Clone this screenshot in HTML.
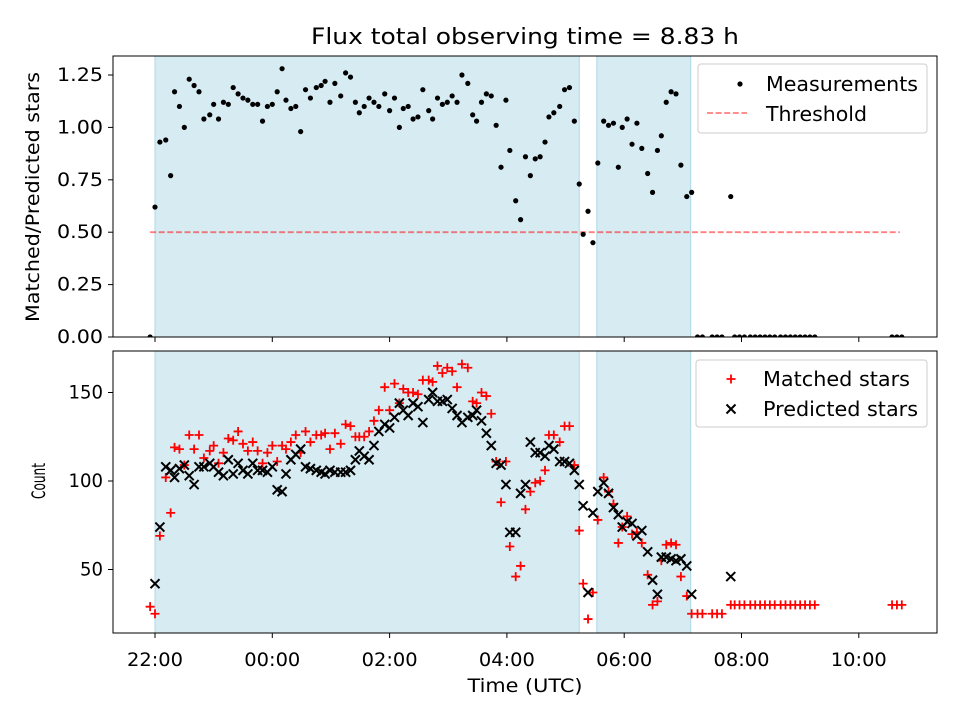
<!DOCTYPE html>
<html><head><meta charset="utf-8"><style>
body{margin:0;background:#fff}
svg{display:block;font-family:"DejaVu Sans","Liberation Sans",sans-serif}
</style></head><body>
<svg id="fig" width="960" height="720" viewBox="0 0 960 720">
<defs>
<clipPath id="clipTop"><rect x="113" y="56" width="824" height="281"/></clipPath>
<clipPath id="clipBot"><rect x="113" y="351" width="824" height="282"/></clipPath>
</defs>
<text x="525" y="44" text-anchor="middle" font-size="22" textLength="428" lengthAdjust="spacingAndGlyphs">Flux total observing time = 8.83 h</text>
<g id="topPanel"></g>
<g id="botPanel"></g>
</svg>
<script>
// minutes since 22:00 UTC
const times=[-5,0,5,11,16,20,25,30,35,40,45,50,56,60,65,70,75,80,85,90,95,100,105,110,115,120,125,130,134,139,144,149,154,159,165,170,174,179,184,190,195,200,205,209,214,219,224,229,
235,240,245,250,254,259,264,269,274,280,284,289,294,299,304,309,314,320,325,329,334,339,344,349,354,359,363,369,374,379,384,389,394,399,403,408,414,419,424,429,434,438,443,448,453,459,464,469,474,478,483,488,493,498,504,509,514,518,523,528,533,538,544,549,
555,560,570,575,580,589,593,598,603,609,614,619,624,629,634,640,645,650,655,660,665,670,675,754,759,764];
const ratios=[0,.62,.93,.94,.77,1.17,1.10,1.00,1.23,1.20,1.17,1.04,1.06,1.11,1.04,1.12,1.11,1.19,1.16,1.14,1.13,1.11,1.11,1.03,1.10,1.11,1.17,1.28,1.13,1.09,1.10,.98,1.18,1.14,1.19,1.20,1.22,1.12,1.21,1.15,1.26,1.24,1.12,1.07,1.10,1.14,1.12,1.10,
1.16,1.08,1.14,1.00,1.09,1.10,1.04,1.05,1.18,1.08,1.04,1.14,1.11,1.12,1.15,1.12,1.25,1.21,1.06,1.03,1.12,1.16,1.15,1.01,.81,1.13,.89,.65,.56,.86,.77,.85,.86,.93,1.05,1.07,1.10,1.18,1.19,1.03,.73,.49,.60,.45,.83,1.03,1.01,1.02,.81,1.00,1.04,.92,1.02,.90,.78,.69,.89,.96,1.12,1.17,1.16,.82,.67,.69,
0,0,0,0,0,.67,0,0,0,0,0,0,0,0,0,0,0,0,0,0,0,0,0,0,0,0];
const matched=[29,25,69,102,82,119,118,109,126,118,126,113,117,120,110,116,124,123,128,121,117,122,117,110,116,120,111,120,118,122,126,116,128,122,126,126,127,118,127,121,132,131,125,125,125,128,134,140,
153,140,155,144,152,150,150,149,157,157,156,165,161,164,162,153,166,164,145,144,150,148,138,111,88,111,63,46,52,84,94,99,100,106,126,126,122,131,131,109,72,42,22,37,78,102,94,87,65,74,80,70,71,65,47,30,32,55,64,65,64,46,35,25,
25,25,25,25,25,30,30,30,30,30,30,30,30,30,30,30,30,30,30,30,30,30,30,30,30,30];
const predicted=[0,42,74,108,106,102,107,109,103,98,108,108,110,108,105,103,112,104,110,106,104,110,106,106,105,108,95,94,104,112,115,118,108,107,106,105,104,106,105,105,105,106,112,117,114,112,120,128,
132,130,136,144,140,137,144,142,133,146,150,145,145,146,141,137,133,136,137,140,134,127,120,110,109,98,71,71,93,98,122,116,116,114,120,118,111,111,110,106,98,86,37,82,94,99,93,85,81,74,77,76,69,72,60,44,36,57,57,56,55,56,52,36,
0,0,0,0,0,46,0,0,0,0,0,0,0,0,0,0,0,0,0,0,0,0,0,0,0,0];
const spanStarts=[0,452];
const spanEnds=[434,548];
const threshold=0.5;
const thrRange=[-5,762];
const xTicks=[0,120,240,360,480,600,720];
const xTickLabels=["22:00","00:00","02:00","04:00","06:00","08:00","10:00"];
const topTicks=[0,0.25,0.5,0.75,1.0,1.25];
const topTickLabels=["0.00","0.25","0.50","0.75","1.00","1.25"];
const botTicks=[50,100,150];
const botTickLabels=["50","100","150"];

const NS="http://www.w3.org/2000/svg";
const X=m=>155+m*0.9775;
const YT=v=>337-v*209.6;
const YB=v=>481-(v-100)*1.77;
function mk(tag,attrs,parent){const e=document.createElementNS(NS,tag);for(const k in attrs)e.setAttribute(k,attrs[k]);parent.appendChild(e);return e;}
function txt(parent,s,x,y,size,len,anchor){const t=mk('text',{x:x,y:y,'font-size':size,'text-anchor':anchor||'start',textLength:len,lengthAdjust:'spacingAndGlyphs'},parent);t.textContent=s;return t;}

function panel(g,y0,y1,clip,yfn,ticks,labels){
  const marks=mk('g',{'clip-path':'url(#'+clip+')'},g);
  for(let i=0;i<spanStarts.length;i++){
    const r=mk('rect',{x:X(spanStarts[i]),y:y0,width:X(spanEnds[i])-X(spanStarts[i]),height:y1-y0,fill:'#add8e6','fill-opacity':0.5,stroke:'#add8e6','stroke-width':1},marks);
    
    
  }
  for(let i=0;i<xTicks.length;i++){
    const t=mk('line',{x1:X(xTicks[i]),x2:X(xTicks[i]),y1:y1,y2:y1+5,stroke:'#000','stroke-width':1},g);
    
    
  }
  for(let i=0;i<ticks.length;i++){
    const y=yfn(ticks[i]);
    const t=mk('line',{x1:108,x2:113,y1:y,y2:y,stroke:'#000','stroke-width':1},g);
    
    
    const l=txt(g,labels[i],103,y+6,19,labels[i].length*11.5,'end');
    
    
  }
  return marks;
}

// TOP
const topG=document.getElementById('topPanel');
const tm=panel(topG,56,337,'clipTop',YT,topTicks,topTickLabels);
const th=mk('line',{x1:X(thrRange[0]),x2:X(thrRange[1]),y1:YT(threshold),y2:YT(threshold),stroke:'#ff0000','stroke-opacity':0.5,'stroke-width':1.8,'stroke-dasharray':'6,2.6'},tm);


for(let i=0;i<times.length;i++){
  const c=mk('circle',{cx:X(times[i]),cy:YT(ratios[i]),r:2.6,fill:'#000'},tm);
  
  
}
mk('rect',{x:113,y:56,width:824,height:281,fill:'none',stroke:'#000','stroke-width':1},topG);
const yl1=mk('text',{x:0,y:0,transform:'translate(39,197) rotate(-90)','text-anchor':'middle','font-size':19,textLength:250,lengthAdjust:'spacingAndGlyphs'},topG);
yl1.textContent='Matched/Predicted stars';



// BOTTOM
const botG=document.getElementById('botPanel');
const bm=panel(botG,351,633,'clipBot',YB,botTicks,botTickLabels);
for(let i=0;i<times.length;i++){
  const x=X(times[i]),y=YB(matched[i]);
  const p=mk('path',{d:`M${x-4.5},${y}H${x+4.5}M${x},${y-4.5}V${y+4.5}`,stroke:'#ff0000','stroke-width':1.8,fill:'none'},bm);
  
  
}
for(let i=0;i<times.length;i++){
  const x=X(times[i]),y=YB(predicted[i]),s=4.5;
  const p=mk('path',{d:`M${x-s},${y-s}L${x+s},${y+s}M${x-s},${y+s}L${x+s},${y-s}`,stroke:'#000','stroke-width':2,fill:'none'},bm);
  
  
}
mk('rect',{x:113,y:351,width:824,height:282,fill:'none',stroke:'#000','stroke-width':1},botG);
for(let i=0;i<xTicks.length;i++){
  const l=txt(botG,xTickLabels[i],X(xTicks[i]),666,19,56,'middle');
  
  
}
const yl2=mk('text',{x:0,y:0,transform:'translate(45,481) rotate(-90)','text-anchor':'middle','font-size':19,textLength:36,lengthAdjust:'spacingAndGlyphs'},botG);
yl2.textContent='Count';


const xl=txt(botG,'Time (UTC)',525,692,19,115,'middle');



// LEGENDS
const lg1=mk('g',{},topG);


mk('rect',{x:698,y:64,width:229,height:69,rx:3,fill:'#fff','fill-opacity':0.8,stroke:'#ccc'},lg1);
mk('circle',{cx:740,cy:84,r:2.6,fill:'#000'},lg1);
txt(lg1,'Measurements',766,91,20,152);
mk('line',{x1:707,x2:747,y1:113,y2:113,stroke:'#ff0000','stroke-opacity':0.5,'stroke-width':1.8,'stroke-dasharray':'6,2.6'},lg1);
txt(lg1,'Threshold',766,121,20,101);

const lg2=mk('g',{},botG);


mk('rect',{x:696,y:360,width:231,height:67,rx:3,fill:'#fff','fill-opacity':0.8,stroke:'#ccc'},lg2);
mk('path',{d:'M726.5,379H735.5M731,374.5V383.5',stroke:'#ff0000','stroke-width':1.8},lg2);
txt(lg2,'Matched stars',763,386,20,147);
mk('path',{d:'M726.5,404.5L735.5,413.5M726.5,413.5L735.5,404.5',stroke:'#000','stroke-width':2},lg2);
txt(lg2,'Predicted stars',763,416,20,155);
</script>
</body></html>
